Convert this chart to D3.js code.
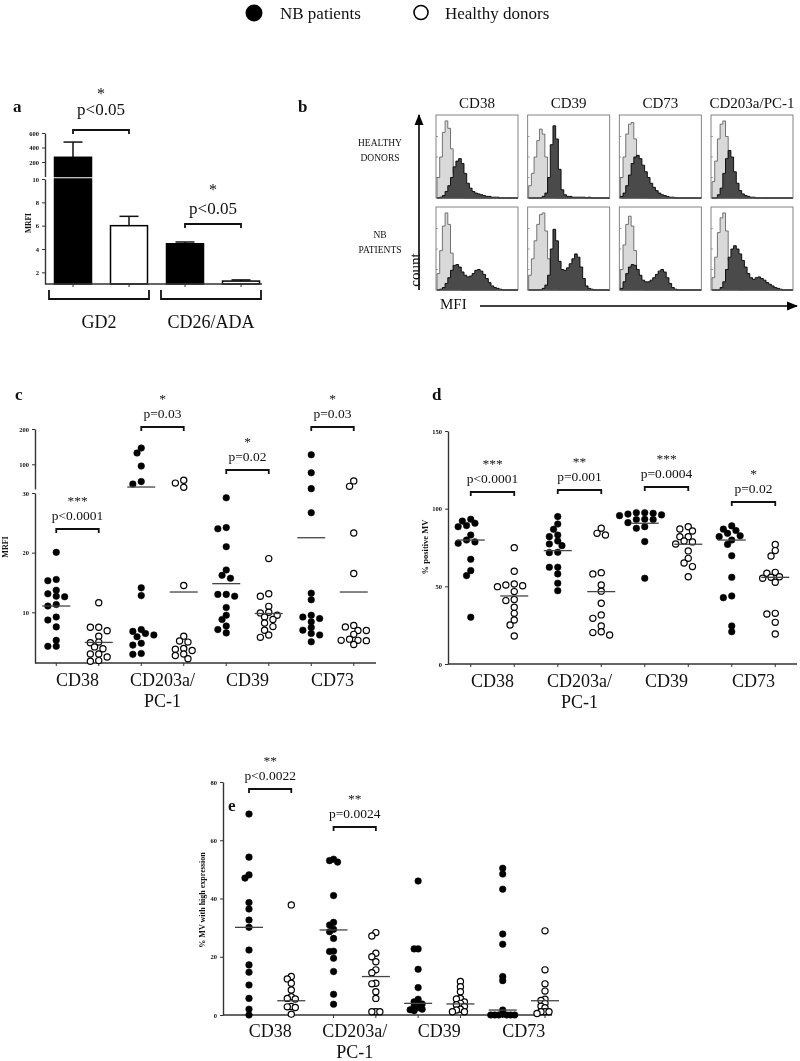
<!DOCTYPE html>
<html><head><meta charset="utf-8">
<script src="https://cdn.jsdelivr.net/npm/d3@7"></script>
<style>
body{margin:0;background:#fff}
svg{filter:grayscale(1)}
svg text{font-family:"Liberation Serif","Times New Roman","DejaVu Serif",serif;fill:#111}
</style>
</head><body>
<svg id="chart" width="800" height="1061"></svg>
<script>
// ---------------- DATA ----------------
const seriesNames = ["NB patients", "Healthy donors"];

// panel a
const barCategories = ["GD2", "CD26/ADA"];
const barNB = [265, 4.45];
const barNBErr = [475, 4.6];
const barHD = [6.0, 1.25];
const barHDErr = [6.8, 1.35];
const barPLabels = ["p<0.05", "p<0.05"];
const barStars = ["*", "*"];
const aLowTicks = [2, 4, 6, 8, 10];
const aHighTicks = [200, 400, 600];

// panel b (flow cytometry histograms, 30 bins, % of box height)
const histMarkers = ["CD38", "CD39", "CD73", "CD203a/PC-1"];
const histRowLabels = [["HEALTHY", "DONORS"], ["NB", "PATIENTS"]];
const hdCD38Ctrl  = [25,50,80,94,85,60,30,12,4,1,0,0,0,0,0,0,0,0,0,0,0,0,0,0,0,0,0,0,0,0];
const hdCD38Stain = [0,1,3,8,15,25,38,45,48,42,30,18,12,8,6,5,4,3,2,2,1,1,1,0,0,0,0,0,0,0];
const hdCD39Ctrl  = [15,30,50,70,84,78,50,20,6,2,0,0,0,0,0,0,0,0,0,0,0,0,0,0,0,0,0,0,0,0];
const hdCD39Stain = [0,0,0,0,0,2,6,25,65,88,72,35,10,4,2,2,1,1,1,1,1,0,1,0,0,0,0,0,0,0];
const hdCD73Ctrl  = [25,50,78,90,92,72,45,20,7,2,0,0,0,0,0,0,0,0,0,0,0,0,0,0,0,0,0,0,0,0];
const hdCD73Stain = [2,6,15,28,42,50,52,48,40,32,25,18,13,9,6,4,3,2,1,1,0,0,0,0,0,0,0,0,0,0];
const hdCD203Ctrl = [20,45,72,90,94,75,40,15,5,1,0,0,0,0,0,0,0,0,0,0,0,0,0,0,0,0,0,0,0,0];
const hdCD203Stain= [0,0,4,12,30,48,58,50,32,18,9,5,3,2,1,1,0,0,0,0,0,0,0,0,0,0,0,0,0,0];
const nbCD38Ctrl  = [20,48,78,94,80,45,15,5,2,0,0,0,0,0,0,0,0,0,0,0,0,0,0,0,0,0,0,0,0,0];
const nbCD38Stain = [0,1,3,8,15,24,30,31,28,22,18,16,17,20,24,25,23,19,14,9,5,3,2,1,0,0,0,0,0,0];
const nbCD39Ctrl  = [18,38,60,80,92,94,72,38,12,4,1,0,0,0,0,0,0,0,0,0,0,0,0,0,0,0,0,0,0,0];
const nbCD39Stain = [0,0,0,0,0,2,6,18,50,74,60,35,25,24,27,32,38,44,40,28,14,5,2,1,0,0,0,0,0,0];
const nbCD73Ctrl  = [25,55,80,90,78,48,20,6,2,0,0,0,0,0,0,0,0,0,0,0,0,0,0,0,0,0,0,0,0,0];
const nbCD73Stain = [2,10,20,28,31,30,25,18,12,10,10,12,15,19,23,25,22,15,8,3,1,0,0,0,0,0,0,0,0,0];
const nbCD203Ctrl = [15,40,70,88,94,72,36,12,4,1,0,0,0,0,0,0,0,0,0,0,0,0,0,0,0,0,0,0,0,0];
const nbCD203Stain= [0,0,0,3,10,25,40,50,54,50,44,36,28,20,15,13,15,16,14,12,9,7,5,3,2,1,0,0,0,0];

// panels c, d, e
const markerLabels = [["CD38"], ["CD203a/", "PC-1"], ["CD39"], ["CD73"]];

// c: MRFI
const cNbCD38  = [20.05,15.5,15.3,13.7,13.1,12.7,12.6,11.3,11.05,9.2,8.7,7.55,5.3,4.3,4.3];
const cHdCD38  = [11.6,7.5,7.5,6.9,6.0,5.0,4.9,4.2,3.9,3.0,3.0,2.5,1.9,1.8];
const cNbCD203 = [146,132,95,51,44,14.1,12.8,7.1,6.8,6.45,6.2,5.9,4.8,4.5,3.1,2.95];
const cHdCD203 = [55,46.7,34.7,14.5,6.0,5.2,5.0,3.95,3.8,3.6,3.0,2.75,2.2];
const cNbCD39  = [29.2,24.2,24.0,21,17.1,16.2,15.7,13,12.7,13,10.8,9.5,8.8,7.7,7.1,6.55];
const cHdCD39  = [19.0,13.1,12.7,11,10,9.9,9.5,9.2,8.8,8.2,7.6,7.0,6.2,5.8];
const cNbCD73  = [127,76,31,26.7,13.2,12.1,9.5,9.2,8.95,8.4,7.45,7.0,6.45,6.2,5.05];
const cHdCD73  = [53,37.5,23.3,16.5,7.8,7.55,6.95,6.95,6.3,5.5,5.3,5.3,5.25,4.6];
const cNbMean  = [11.05, 35.6, 14.8, 22.5];
const cHdMean  = [4.95, 13.4, 9.8, 13.4];
const cPLabels = ["p<0.0001", "p=0.03", "p=0.02", "p=0.03"];
const cStars   = ["***", "*", "*", "*"];
const cLowTicks = [10, 20, 30];
const cHighTicks = [100, 200];

// d: % positive MV
const dNbCD38  = [93.2,92,90.6,89.1,88.4,83,79.8,78.6,77.7,67.4,60.1,56.9,30.1];
const dHdCD38  = [74.9,59.7,51.5,50.9,50.4,49.8,46.6,41.6,40.8,36.5,32.6,28.3,25.1,18];
const dNbCD203 = [94.9,90.1,86.7,83,82,79.2,77.3,76.2,71.9,71.7,62.3,62.3,58,52,47.2];
const dHdCD203 = [87.4,84.1,83,58.8,58,50.9,46.9,39.1,31.6,29.4,24.5,20.8,20.2,18.7];
const dNbCD39  = [97.4,96,95.5,97,96.5,97.4,93,93,93.2,91,87.4,88.4,78.8,55.2];
const dHdCD39  = [88.4,86.9,85.6,82,82,79.2,78.6,77.3,72.8,68,65,62.7,56.2];
const dNbCD73  = [88.9,86.8,85.9,84.1,82,82.5,79.8,77,69.7,55.8,43.8,42.7,24.5,20.8];
const dHdCD73  = [77,73,69.5,59,58.4,56.2,55.8,55.2,52.6,32.6,32.2,26.8,19.3];
const dNbMean  = [79.8, 73, 90.6, 79.8];
const dHdMean  = [43.8, 46.6, 77.1, 55.8];
const dPLabels = ["p<0.0001", "p=0.001", "p=0.0004", "p=0.02"];
const dStars   = ["***", "**", "***", "*"];
const dTicks   = [0, 50, 100, 150];

// e: % MV with high expression
const eNbCD38  = [69,54.2,48.1,47,38.6,36.4,32.6,30.1,22.3,17.2,14.7,10.3,5.7,2,0];
const eHdCD38  = [37.8,13.2,12.4,10.9,8.6,6.3,5.7,5.5,2.9,2.8,2.6,0.3];
const eNbCD203 = [53.5,53,52.5,41,31.8,30.9,29.4,28.6,26.3,21.9,21.8,19.5,14.9,7.1,3.7];
const eHdCD203 = [28.3,27.1,21.2,20,18.3,15.5,14.5,10.9,10.7,8,5.7,1.1,1.1,1.1];
const eNbCD39  = [46,22.7,22.7,15.7,9.4,5.4,4.5,4,3.8,3.1,2.5,2,1.8,1.5];
const eHdCD39  = [11.5,9.7,8,5.7,5.5,4.5,4,3.5,2.9,2,1.7,1.1,1.1];
const eNbCD73  = [50.4,48.4,43.2,27.8,24.3,13.2,11.8,1.7,0.3,0,0,0,0,0,0];
const eHdCD73  = [28.9,15.5,10.7,8.2,5.4,5,4,3,2.5,1.1,1.1,1.1,0.5];
const eNbMean  = [30.1, 29.2, 4.0, 1.7];
const eHdMean  = [4.9, 13.2, 3.8, 4.9];
const ePLabels = ["p<0.0022", "p=0.0024", null, null];
const eStars   = ["**", "**", null, null];
const eTicks   = [0, 20, 40, 60, 80];

// ---------------- DRAWING ----------------
const SERIF = "'Liberation Serif','Times New Roman','DejaVu Serif',serif";
const svg = d3.select("#chart");
const AX = "#333";

function txt(x, y, t, size, opts = {}) {
  const el = svg.append("text").attr("x", x).attr("y", y).text(t)
    .attr("font-family", SERIF).style("font-family", SERIF)
    .style("font-size", size + "px").attr("fill", "#111");
  if (opts.anchor) el.attr("text-anchor", opts.anchor);
  if (opts.bold) el.style("font-weight", "bold");
  if (opts.star) el.attr("fill", "#222");
  if (opts.rotate) el.attr("x", null).attr("y", null)
    .attr("transform", `translate(${x},${y}) rotate(-90)`);
  return el;
}
function letter(x, y, t) { txt(x, y, t, 17, { bold: true }); }
function styleAxis(g) {
  g.attr("font-family", SERIF);
  g.select(".domain").attr("stroke", AX).attr("stroke-width", 1.4);
  g.selectAll(".tick line").attr("stroke", AX).attr("stroke-width", 1);
  g.selectAll(".tick text").style("font-size", "6.5px").style("font-weight", "bold")
    .style("font-family", SERIF).attr("fill", "#222");
}
function bracket(x1, x2, y, h, up) {
  svg.append("path")
    .attr("d", `M${x1},${y + (up ? -h : h)}V${y}H${x2}V${y + (up ? -h : h)}`)
    .attr("fill", "none").attr("stroke", "#111").attr("stroke-width", 1.8);
}
function yTitle(x, y, t, size) { txt(x, y, t, size, { bold: true, anchor: "middle", rotate: true }); }

// ---- legend
svg.append("circle").attr("cx", 254).attr("cy", 13).attr("r", 8.5).attr("fill", "#000");
txt(280, 19, seriesNames[0], 17);
svg.append("circle").attr("cx", 421).attr("cy", 12.5).attr("r", 7).attr("fill", "#fff")
  .attr("stroke", "#000").attr("stroke-width", 1.6);
txt(445, 19, seriesNames[1], 17);

// ---- panel a
letter(13, 112, "a");
const aX = d3.scalePoint().domain(d3.range(4)).range([45, 269]).padding(0.5);
const aLow = d3.scaleLinear().domain([1, 10]).range([284, 179]);
const aUp = d3.scaleLinear().domain([0, 600]).range([176.5, 133]);
const barW = 37;
const bars = barCategories.flatMap((c, i) => [
  { k: 2 * i, v: barNB[i], e: barNBErr[i], nb: true },
  { k: 2 * i + 1, v: barHD[i], e: barHDErr[i], nb: false }
]);
const aY = v => v > 10 ? aUp(v) : aLow(v);
bars.forEach(b => {
  const cx = aX(b.k);
  const fill = b.nb ? "#000" : "#fff";
  svg.append("line").attr("x1", cx).attr("x2", cx).attr("y1", aY(b.v)).attr("y2", aY(b.e))
    .attr("stroke", "#111").attr("stroke-width", 1.5);
  svg.append("line").attr("x1", cx - 9.5).attr("x2", cx + 9.5).attr("y1", aY(b.e)).attr("y2", aY(b.e))
    .attr("stroke", "#111").attr("stroke-width", 1.5);
  if (b.v > 10) {
    svg.append("rect").attr("x", cx - barW / 2).attr("width", barW)
      .attr("y", aLow(10)).attr("height", aLow(1) - aLow(10)).attr("fill", fill).attr("stroke", "#000").attr("stroke-width", 1.5);
    svg.append("rect").attr("x", cx - barW / 2).attr("width", barW)
      .attr("y", aUp(b.v)).attr("height", aUp(0) - aUp(b.v)).attr("fill", fill).attr("stroke", "#000").attr("stroke-width", 1.5);
  } else {
    svg.append("rect").attr("x", cx - barW / 2).attr("width", barW)
      .attr("y", aLow(b.v)).attr("height", aLow(1) - aLow(b.v)).attr("fill", fill).attr("stroke", "#000").attr("stroke-width", 1.5);
  }
});
styleAxis(svg.append("g").attr("transform", "translate(45,0)")
  .call(d3.axisLeft(aLow).tickValues(aLowTicks).tickSize(3).tickSizeOuter(0)));
styleAxis(svg.append("g").attr("transform", "translate(45,0)")
  .call(d3.axisLeft(aUp).tickValues(aHighTicks).tickSize(3).tickSizeOuter(0)));
svg.append("line").attr("x1", 45).attr("x2", 262).attr("y1", 284).attr("y2", 284).attr("stroke", AX).attr("stroke-width", 1.4);
bars.forEach(b => svg.append("line").attr("x1", aX(b.k)).attr("x2", aX(b.k)).attr("y1", 284).attr("y2", 287).attr("stroke", AX));
yTitle(31, 223, "MRFI", 7.5);
barCategories.forEach((c, i) => {
  const x1 = aX(2 * i) - 24, x2 = aX(2 * i + 1) + 20;
  bracket(x1, x2, 299, 9, true);
  txt((x1 + x2) / 2, 328, c, 18, { anchor: "middle" });
});
const aBr = [{ y: 130, p: 115, s: 99 }, { y: 224, p: 214, s: 195 }];
barCategories.forEach((c, i) => {
  const x1 = aX(2 * i), x2 = aX(2 * i + 1);
  bracket(x1, x2, aBr[i].y, 4, false);
  txt((x1 + x2) / 2, aBr[i].p, barPLabels[i], 17, { anchor: "middle" });
  txt((x1 + x2) / 2, aBr[i].s, barStars[i], 16, { anchor: "middle", star: true });
});

// ---- panel b
letter(298, 112, "b");
const bX = d3.scalePoint().domain(histMarkers).range([477, 752]);
const boxW = 82, boxH = 83;
const rowTop = [115, 207];
const histData = [
  [[hdCD38Ctrl, hdCD38Stain], [hdCD39Ctrl, hdCD39Stain], [hdCD73Ctrl, hdCD73Stain], [hdCD203Ctrl, hdCD203Stain]],
  [[nbCD38Ctrl, nbCD38Stain], [nbCD39Ctrl, nbCD39Stain], [nbCD73Ctrl, nbCD73Stain], [nbCD203Ctrl, nbCD203Stain]]
];
histMarkers.forEach(m => txt(bX(m), 108, m, 15, { anchor: "middle" }));
histRowLabels.forEach((lines, r) => {
  lines.forEach((t, j) => txt(380, rowTop[r] + 31 + j * 15, t, 9.5, { anchor: "middle" }));
});
histData.forEach((row, r) => {
  row.forEach((pair, c) => {
    const x0 = bX(histMarkers[c]) - boxW / 2, y0 = rowTop[r];
    const hx = d3.scaleLinear().domain([0, 30]).range([x0 + 1, x0 + boxW]);
    const hy = d3.scaleLinear().domain([0, 100]).range([y0 + boxH, y0 + 1]);
    const area = d3.area().x((d, i) => hx(i)).y0(hy(0)).y1(d => hy(d)).curve(d3.curveStepAfter);
    const ext = arr => arr.concat([0]);
    svg.append("path").attr("d", area(ext(pair[0]))).attr("fill", "#d9d9d9").attr("stroke", "#555").attr("stroke-width", 0.8);
    svg.append("path").attr("d", area(ext(pair[1]))).attr("fill", "#4a4a4a").attr("stroke", "#000").attr("stroke-width", 0.9);
    svg.append("rect").attr("x", x0).attr("y", y0).attr("width", boxW).attr("height", boxH)
      .attr("fill", "none").attr("stroke", "#777").attr("stroke-width", 0.9);
    [0, 25, 50, 75].forEach(t => svg.append("line").attr("x1", x0).attr("x2", x0 + 2)
      .attr("y1", hy(t)).attr("y2", hy(t)).attr("stroke", "#666").attr("stroke-width", 0.6));
  });
});
svg.append("defs").html(`<marker id="ah" viewBox="0 0 10 10" refX="9" refY="5" markerWidth="7" markerHeight="7" orient="auto-start-reverse"><path d="M0,1L10,5L0,9z" fill="#000"/></marker>`);
svg.append("line").attr("x1", 419).attr("x2", 419).attr("y1", 290).attr("y2", 115)
  .attr("stroke", "#000").attr("stroke-width", 1.6).attr("marker-end", "url(#ah)");
svg.append("line").attr("x1", 480).attr("x2", 797).attr("y1", 306).attr("y2", 306)
  .attr("stroke", "#000").attr("stroke-width", 1.6).attr("marker-end", "url(#ah)");
txt(420, 270, "count", 15, { anchor: "middle", rotate: true });
txt(440, 309, "MFI", 15);

// ---- scatter helper
function dodge(values, ys, step, minD) {
  const pts = values.map(v => ({ v, y: ys(v), off: 0 }));
  const order = pts.slice().sort((a, b) => b.v - a.v);
  const placed = [];
  order.forEach(p => {
    for (let k = 0; k < 40; k++) {
      const off = k === 0 ? 0 : (k % 2 ? -1 : 1) * Math.ceil(k / 2) * step;
      if (placed.every(q => Math.hypot(q.off - off, q.y - p.y) >= minD)) { p.off = off; break; }
    }
    placed.push(p);
  });
  return pts;
}
function scatterPanel(opt) {
  const { xs, ys, groups, means, pLabels, stars, brY, labelY } = opt;
  const step = opt.step || 4.2, minD = opt.minD || 5.6;
  groups.forEach((g, i) => {
    const cx = xs(i);
    const nb = i % 2 === 0;
    const m = i >> 1;
    const pts = dodge(g, ys, step, minD);
    svg.append("g").selectAll("circle").data(pts).join("circle")
      .attr("cx", d => cx + d.off).attr("cy", d => d.y).attr("r", nb ? 3.3 : 3.1)
      .attr("fill", nb ? "#000" : "#fff").attr("stroke", "#000").attr("stroke-width", nb ? 0.5 : 1.2);
    const mv = nb ? means[0][m] : means[1][m];
    svg.append("line").attr("x1", cx - 14).attr("x2", cx + 14).attr("y1", ys(mv)).attr("y2", ys(mv))
      .attr("stroke", "#444").attr("stroke-width", 1.3);
  });
  markerLabels.forEach((lines, m) => {
    const x1 = xs(2 * m), x2 = xs(2 * m + 1);
    lines.forEach((t, j) => txt((x1 + x2) / 2, labelY + j * 21, t, 18, { anchor: "middle" }));
    if (pLabels[m]) {
      bracket(x1, x2, brY[m], 4, false);
      txt((x1 + x2) / 2, brY[m] - 9, pLabels[m], 13.5, { anchor: "middle" });
      txt((x1 + x2) / 2, brY[m] - 24, stars[m], 13.5, { anchor: "middle", star: true });
    }
  });
}

// ---- panel c
letter(15, 400, "c");
const cX = d3.scalePoint().domain(d3.range(8)).range([35, 375]).padding(0.5);
const cLow = d3.scaleLinear().domain([1.5, 30]).range([663, 493]);
const cUp = d3.scaleLinear().domain([30, 200]).range([489, 429]);
const cY = v => v > 30 ? cUp(v) : cLow(v);
styleAxis(svg.append("g").attr("transform", "translate(35,0)")
  .call(d3.axisLeft(cLow).tickValues(cLowTicks).tickSize(3).tickSizeOuter(0)));
styleAxis(svg.append("g").attr("transform", "translate(35,0)")
  .call(d3.axisLeft(cUp).tickValues(cHighTicks).tickSize(3).tickSizeOuter(0)));
svg.append("line").attr("x1", 35).attr("x2", 376).attr("y1", 663).attr("y2", 663).attr("stroke", AX).attr("stroke-width", 1.4);
d3.range(8).forEach(i => svg.append("line").attr("x1", cX(i)).attr("x2", cX(i)).attr("y1", 663).attr("y2", 666).attr("stroke", AX));
yTitle(8, 547, "MRFI", 8);
scatterPanel({
  xs: cX, ys: cY,
  groups: [cNbCD38, cHdCD38, cNbCD203, cHdCD203, cNbCD39, cHdCD39, cNbCD73, cHdCD73],
  means: [cNbMean, cHdMean], pLabels: cPLabels, stars: cStars,
  brY: [529, 427, 470, 427], labelY: 686
});

// ---- panel d
letter(432, 400, "d");
const dX = d3.scalePoint().domain(d3.range(8)).range([449, 797]).padding(0.5);
const dY = d3.scaleLinear().domain([0, 150]).range([664, 431]);
styleAxis(svg.append("g").attr("transform", "translate(448,0)")
  .call(d3.axisLeft(dY).tickValues(dTicks).tickSize(3).tickSizeOuter(0)));
svg.append("line").attr("x1", 448).attr("x2", 797).attr("y1", 664).attr("y2", 664).attr("stroke", AX).attr("stroke-width", 1.4);
d3.range(8).forEach(i => svg.append("line").attr("x1", dX(i)).attr("x2", dX(i)).attr("y1", 664).attr("y2", 667).attr("stroke", AX));
yTitle(428, 547, "% positive MV", 8.5);
scatterPanel({
  xs: dX, ys: dY,
  groups: [dNbCD38, dHdCD38, dNbCD203, dHdCD203, dNbCD39, dHdCD39, dNbCD73, dHdCD73],
  means: [dNbMean, dHdMean], pLabels: dPLabels, stars: dStars,
  brY: [492, 490, 487, 502], labelY: 687
});

// ---- panel e
letter(228, 811, "e");
const eX = d3.scalePoint().domain(d3.range(8)).range([249, 545]).padding(0);
const eY = d3.scaleLinear().domain([0, 80]).range([1015, 782]);
styleAxis(svg.append("g").attr("transform", "translate(223,0)")
  .call(d3.axisLeft(eY).tickValues(eTicks).tickSize(3).tickSizeOuter(0)));
svg.append("line").attr("x1", 223).attr("x2", 552).attr("y1", 1015).attr("y2", 1015).attr("stroke", AX).attr("stroke-width", 1.4);
d3.range(8).forEach(i => svg.append("line").attr("x1", eX(i)).attr("x2", eX(i)).attr("y1", 1015).attr("y2", 1018).attr("stroke", AX));
yTitle(205, 900, "% MV with high expression", 8);
scatterPanel({
  xs: eX, ys: eY, step: 4, minD: 3.9,
  groups: [eNbCD38, eHdCD38, eNbCD203, eHdCD203, eNbCD39, eHdCD39, eNbCD73, eHdCD73],
  means: [eNbMean, eHdMean], pLabels: ePLabels, stars: eStars,
  brY: [789, 827, 0, 0], labelY: 1037
});
</script>
</body></html>
